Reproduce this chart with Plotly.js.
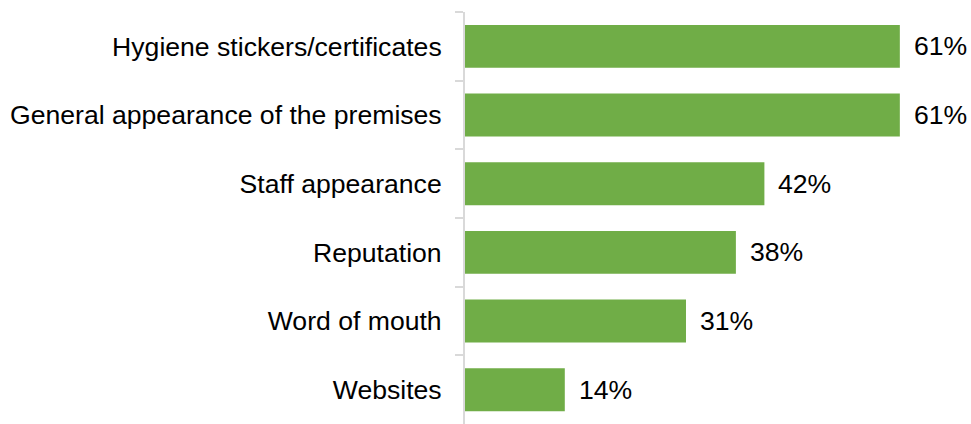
<!DOCTYPE html>
<html><head><meta charset="utf-8">
<script src="https://cdn.plot.ly/plotly-3.0.1.min.js"></script>
<style>html,body{margin:0;padding:0;background:#fff}#chart{width:971px;height:424px}</style>
</head><body><div id="chart"></div>
<script>
const categories = ["Hygiene stickers/certificates","General appearance of the premises","Staff appearance","Reputation","Word of mouth","Websites"];
const values = [61,61,42,38,31,14];
const labels = values.map(v => v + "%");

const font = {family:"Liberation Sans, Arial, sans-serif", size:26.6, color:"#000"};
const trace = {
  type:"bar", orientation:"h", x:values, y:categories,
  marker:{color:"#70AD47"}, hoverinfo:"none"
};
const annotations = values.map((v,i)=>({
  x:v, y:categories[i], text:labels[i], xanchor:"left", yanchor:"middle",
  xshift:12, showarrow:false, font:font
}));
Plotly.newPlot("chart",[trace],{
  width:971, height:424,
  margin:{l:465, r:7, t:12, b:0, pad:0},
  paper_bgcolor:"#fff", plot_bgcolor:"#fff",
  bargap:0.375, showlegend:false,
  font:font,
  xaxis:{range:[0,70], visible:false, fixedrange:true},
  yaxis:{type:"category", autorange:"reversed", showline:true, linecolor:"#d9d9d9", linewidth:2,
    ticks:"outside", tickson:"boundaries", ticklen:8, tickcolor:"#d9d9d9", tickwidth:2,
    ticklabelstandoff:16, showgrid:false, zeroline:false, tickfont:font, fixedrange:true},
  annotations:annotations
},{staticPlot:true});
</script></body></html>
